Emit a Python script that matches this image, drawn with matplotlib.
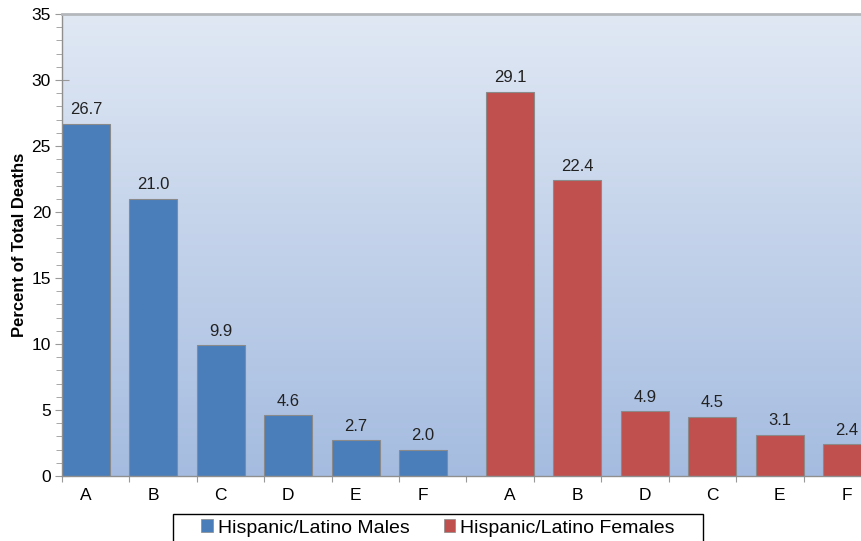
import numpy as np
import matplotlib.pyplot as plt
from matplotlib.patches import Patch, Rectangle
from matplotlib.colors import LinearSegmentedColormap

plt.rcParams['font.family'] = ['Liberation Sans', 'DejaVu Sans']

# dane
male_labels = ['A', 'B', 'C', 'D', 'E', 'F']
male_values = [26.7, 21.0, 9.9, 4.6, 2.7, 2.0]
female_labels = ['A', 'B', 'D', 'C', 'E', 'F']
female_values = [29.1, 22.4, 4.9, 4.5, 3.1, 2.4]

BLUE = '#4a7ebb'
RED = '#c0504d'
W = 0.71
N = len(male_values) + len(female_values)

fig = plt.figure(figsize=(8.62, 5.41), dpi=100)
# os wychodzi poza prawą krawędź obrazka (jak w oryginale)
ax = fig.add_axes([62 / 862, 1 - 476 / 541, (871 - 62) / 862, 462 / 541])

# gradientowe tło
grad = np.linspace(0, 1, 256).reshape(-1, 1)
cmap = LinearSegmentedColormap.from_list('bg', ['#a5bce0', '#e0e8f4'])
ax.imshow(grad, extent=[0, N, 0, 35], origin='lower', aspect='auto', cmap=cmap, zorder=0)

# słupki: mężczyźni wyrównani do lewej, kobiety do prawej krawędzi kategorii
male_x = np.arange(len(male_values))
female_x = np.arange(len(female_values)) + len(male_values) + (1 - W)
ax.bar(male_x, male_values, width=W, align='edge', color=BLUE, edgecolor='#8a8a8a', lw=0.8, zorder=2)
ax.bar(female_x, female_values, width=W, align='edge', color=RED, edgecolor='#8a8a8a', lw=0.8, zorder=2)

for x, v in zip(male_x, male_values):
    ax.text(x + W / 2, v + 0.5, f'{v:.1f}', ha='center', va='bottom', fontsize=12, color='#222222')
for x, v in zip(female_x, female_values):
    ax.text(x + W / 2, v + 0.5, f'{v:.1f}', ha='center', va='bottom', fontsize=12, color='#222222')

ax.set_xlim(0, N)
ax.set_ylim(0, 35)

# osie i podziałki
ax.set_xticks(np.arange(0, N + 1))
ax.set_xticklabels([])
ax.tick_params(axis='x', which='major', length=4, color='#999999', direction='out')
ax.set_xticks(list(male_x + W / 2) + list(female_x + W / 2), minor=True)
ax.set_xticklabels(male_labels + female_labels, minor=True, fontsize=12.5)
ax.tick_params(axis='x', which='minor', length=0, pad=9)

ax.set_yticks(np.arange(0, 36, 5))
ax.set_yticks(np.arange(0, 36, 1), minor=True)
ax.tick_params(axis='y', which='major', length=10, direction='inout', color='#999999', labelsize=12.5, pad=3)
ax.tick_params(axis='y', which='minor', length=4, direction='out', color='#999999')

for s in ['left', 'bottom']:
    ax.spines[s].set_color('#8f8f8f')
    ax.spines[s].set_linewidth(1.0)
ax.spines['top'].set_color('#b4b8bc')
ax.spines['top'].set_linewidth(2.0)
ax.spines['right'].set_visible(False)

ax.set_ylabel('Percent of Total Deaths', fontsize=12, fontweight='bold', labelpad=3)

# legenda (ramka rysowana osobno, bo w oryginale jest szersza niż treść)
handles = [Patch(facecolor=BLUE, edgecolor='#8a8a8a', lw=0.5, label='Hispanic/Latino Males'),
           Patch(facecolor=RED, edgecolor='#8a8a8a', lw=0.5, label='Hispanic/Latino Females')]
fig.legend(handles=handles, loc='center', bbox_to_anchor=(438 / 862, 1 - 528 / 541),
           ncol=2, fontsize=14, frameon=False, handlelength=0.6,
           handleheight=0.6, handletextpad=0.25, columnspacing=1.75, borderpad=0,
           borderaxespad=0)
fig.patches.append(Rectangle((173 / 862, -0.02), (703 - 173) / 862, 0.02 + 1 - 514 / 541,
                             transform=fig.transFigure, fill=False, edgecolor='black', lw=1.0))

fig.savefig('out.png', dpi=100)
